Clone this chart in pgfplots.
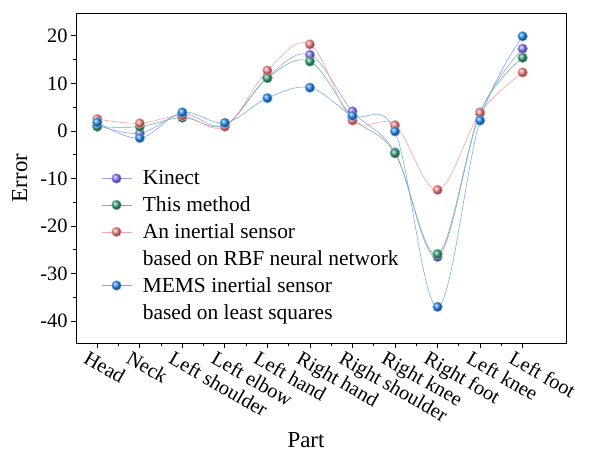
\documentclass[border=0pt]{standalone}
\usepackage{fontspec}
\setmainfont{Liberation Serif}
\usepackage{pgfplots}
\pgfplotsset{compat=1.18}
\definecolor{kinM}{HTML}{8A7CF5}
\definecolor{kinL}{HTML}{A69CF5}
\definecolor{thiM}{HTML}{3AA57A}
\definecolor{thiL}{HTML}{6FB79A}
\definecolor{rbfM}{HTML}{F58585}
\definecolor{rbfL}{HTML}{F5A3A3}
\definecolor{memM}{HTML}{2A8CF0}
\definecolor{memL}{HTML}{74B0EE}
\begin{document}
\begin{tikzpicture}
\useasboundingbox (-76bp,-109bp) rectangle (530bp,343bp);
\begin{axis}[
  at={(0,0)}, anchor=south west,
  scale only axis,
  width=490bp, height=330bp,
  xmin=-0.5, xmax=11.02,
  ymin=-44.6, ymax=24.8,
  xtick={0,...,10},
  xticklabels={Head,Neck,Left shoulder,Left elbow,Left hand,Right hand,Right shoulder,Right knee,Right foot,Left knee,Left foot},
  ytick={-40,-30,-20,-10,0,10,20},
  minor x tick num=1,
  minor y tick num=1,
  tick align=outside,
  xtick pos=bottom, ytick pos=left,
  major tick length=5bp, minor tick length=3bp,
  axis line style={line width=0.9pt},
  every tick/.style={line width=0.8pt, black},
  /pgf/number format/assume math mode=true,
  tick label style={font=\rmfamily\fontsize{20.5}{24}\selectfont},
  xticklabel style={rotate=-30, anchor=north west, xshift=-9bp, yshift=-2bp},
  xlabel={Part}, ylabel={Error},
  label style={font=\rmfamily\fontsize{23}{27}\selectfont},
  xlabel style={yshift=2bp, xshift=-15bp},
  ylabel style={yshift=6bp},
  legend cell align=left,
  legend style={at={(0.045,0.535)}, anchor=north west, draw=none, fill=none,
    font=\rmfamily\fontsize{21.5}{26}\selectfont, row sep=6.5bp, column sep=9bp},
  legend image code/.code={\draw[mark repeat=2,mark phase=2] plot coordinates {(0bp,0bp) (15bp,0bp) (30bp,0bp)};},
]
\addplot[color=kinL, line width=0.6pt, smooth, tension=0.6, mark=ball, mark size=4.8bp, mark options={ball color=kinM}]
 coordinates {(0,1.2) (1,-0.5) (2,3.6) (3,1.2) (4,11.3) (5,16.0) (6,4.1) (7,-4.5) (8,-26.5) (9,3.7) (10,17.3)};
\addlegendentry{Kinect}
\addplot[color=thiL, line width=0.6pt, smooth, tension=0.6, mark=ball, mark size=4.8bp, mark options={ball color=thiM}]
 coordinates {(0,0.9) (1,0.9) (2,2.8) (3,1.2) (4,11.1) (5,14.6) (6,2.8) (7,-4.7) (8,-25.9) (9,3.9) (10,15.4)};
\addlegendentry{This method}
\addplot[color=rbfL, line width=0.6pt, smooth, tension=0.6, mark=ball, mark size=4.8bp, mark options={ball color=rbfM}]
 coordinates {(0,2.5) (1,1.6) (2,3.2) (3,0.9) (4,12.7) (5,18.2) (6,2.2) (7,1.2) (8,-12.4) (9,3.8) (10,12.3)};
\addlegendentry{An inertial sensor}
\addlegendimage{empty legend}
\addlegendentry{based on RBF neural network}
\addplot[color=memL, line width=0.6pt, smooth, tension=0.6, mark=ball, mark size=4.8bp, mark options={ball color=memM}]
 coordinates {(0,1.8) (1,-1.5) (2,3.9) (3,1.7) (4,6.9) (5,9.1) (6,3.2) (7,-0.1) (8,-37.0) (9,2.2) (10,19.9)};
\addlegendentry{MEMS inertial sensor}
\addlegendimage{empty legend}
\addlegendentry{based on least squares}
\end{axis}
\end{tikzpicture}
\end{document}
